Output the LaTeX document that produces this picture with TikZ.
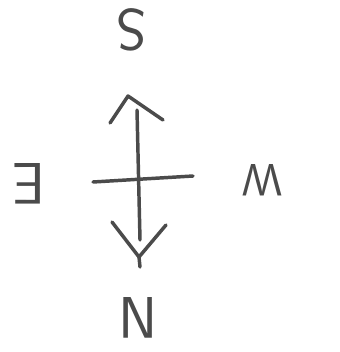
\documentclass[tikz,border=0pt]{standalone}
\tikzset{every picture/.style={line width=0.75pt}}
\tikzset{
  pencil/.style={draw={rgb,255:red,75;green,75;blue,75}, line width=2.6pt, line cap=round, line join=round},
  letter/.style={text={rgb,255:red,75;green,75;blue,75}, font=\sffamily\fontsize{44}{46}\selectfont, rotate=180, inner sep=0pt}
}
\begin{document}
\begin{tikzpicture}[x=0.75pt,y=0.75pt,yscale=-1,xscale=1]
\useasboundingbox (0,0) rectangle (339,352);

% Text Node
\node [letter] (s) at (131,30) {S};
% Text Node
\node [letter] (n) at (138,318) {N};
% Text Node
\node [letter] (e) at (29,184) {E};
% Text Node
\node [letter, font=\sffamily\fontsize{34}{36}\selectfont] (w) at (262,180) {W};

% Coordinates
\coordinate (top) at (137,110);
\coordinate (bot) at (140,240);
\coordinate (west) at (93,182);
\coordinate (east) at (193,176);

%Straight Lines
\draw [pencil] (top) -- (bot) ;
%Straight Lines
\draw [pencil] (west) -- (east) ;
%Arrow head (top)
\draw [pencil] (110,123) -- (128,96) -- (163,120) ;
%Arrow head (bottom)
\draw [pencil] (112,222) -- (139,257) -- (166,225) ;
\draw [pencil] (139,257) -- (140,267) ;

\end{tikzpicture}
\end{document}
